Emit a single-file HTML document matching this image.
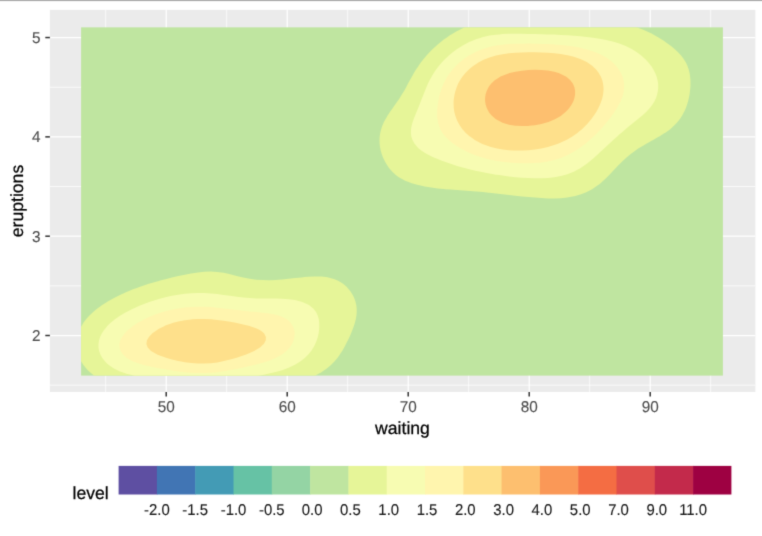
<!DOCTYPE html>
<html lang="en">
<head>
<meta charset="utf-8">
<title>2D density of Old Faithful: eruptions vs waiting</title>
<style>
html,body{margin:0;padding:0;background:#fff}
body{width:762px;height:536px;overflow:hidden}
svg{display:block}
text{font-family:"Liberation Sans",Arial,Helvetica,sans-serif;text-rendering:geometricPrecision}
</style>
</head>
<body>
<svg width="762" height="536" viewBox="0 0 762 536">
<defs><filter id="soft" x="-10" y="-10" width="782" height="556" filterUnits="userSpaceOnUse" color-interpolation-filters="sRGB"><feConvolveMatrix order="3" kernelMatrix="1 6 1 6 36 6 1 6 1" edgeMode="duplicate" preserveAlpha="true"/></filter></defs>
<g filter="url(#soft)">
<!-- page background -->
<rect x="-10" y="-10" width="782" height="556" fill="#fff"/>
<rect x="-10" y="-10" width="782" height="11.10" fill="#a9a9a9"/>
<!-- panel -->
<rect x="49.90" y="9.90" width="705.50" height="382.10" fill="#ebebeb"/>
<g stroke="#fff" fill="none">
<g stroke-width="0.75">
<path d="M105.70 9.90V392.00"/>
<path d="M226.70 9.90V392.00"/>
<path d="M347.70 9.90V392.00"/>
<path d="M468.70 9.90V392.00"/>
<path d="M589.70 9.90V392.00"/>
<path d="M710.70 9.90V392.00"/>
<path d="M49.90 385.17H755.40"/>
<path d="M49.90 285.85H755.40"/>
<path d="M49.90 186.53H755.40"/>
<path d="M49.90 87.21H755.40"/>
</g><g stroke-width="1.25">
<path d="M166.20 9.90V392.00"/>
<path d="M287.20 9.90V392.00"/>
<path d="M408.20 9.90V392.00"/>
<path d="M529.20 9.90V392.00"/>
<path d="M650.20 9.90V392.00"/>
<path d="M49.90 335.51H755.40"/>
<path d="M49.90 236.19H755.40"/>
<path d="M49.90 136.87H755.40"/>
<path d="M49.90 37.55H755.40"/>
</g></g>
<!-- filled density bands -->
<rect x="81.10" y="27.35" width="641.80" height="348.25" fill="#BFE5A0"/>
<path d="M94.0 375.6 94.1 375.6 100.5 375.6 107.0 375.6 113.5 375.6 120.0 375.6 126.5 375.6 133.0 375.6 139.4 375.6 145.9 375.6 152.4 375.6 158.9 375.6 165.4 375.6 171.9 375.6 178.3 375.6 184.8 375.6 191.3 375.6 197.8 375.6 204.3 375.6 210.8 375.6 217.2 375.6 223.7 375.6 230.2 375.6 236.7 375.6 243.2 375.6 249.7 375.6 256.1 375.6 262.6 375.6 269.1 375.6 275.6 375.6 282.1 375.6 288.6 375.6 295.0 375.6 301.5 375.6 308.0 375.6 314.5 375.6 315.3 375.6 321.0 372.5 321.7 372.1 326.8 368.6 327.4 368.1 331.0 365.0 333.9 362.1 334.4 361.5 337.4 358.0 339.9 354.5 340.4 353.6 342.2 351.0 344.2 347.5 346.0 343.9 346.9 342.1 347.8 340.4 349.5 336.9 351.0 333.4 352.4 329.9 353.4 327.2 353.7 326.4 354.9 322.8 355.8 319.3 356.4 315.8 356.7 312.3 356.7 308.8 356.3 305.2 355.5 301.7 354.3 298.2 353.4 296.2 352.6 294.7 350.4 291.2 347.4 287.7 346.9 287.1 343.4 284.1 340.4 282.1 337.6 280.6 333.9 279.0 327.4 277.3 325.9 277.1 321.0 276.5 314.5 276.4 308.0 276.8 304.7 277.1 301.5 277.4 295.0 278.0 288.6 278.7 282.1 279.4 275.6 279.9 269.1 280.2 262.6 280.1 256.1 279.7 249.7 278.8 243.2 277.6 241.0 277.1 236.7 275.9 230.2 274.3 227.0 273.6 223.7 272.8 217.2 271.9 210.8 271.6 204.3 271.8 197.8 272.5 191.3 273.5 191.0 273.6 184.8 274.7 178.3 276.1 174.1 277.1 171.9 277.6 165.4 279.2 160.1 280.6 158.9 280.9 152.4 282.7 148.0 284.1 145.9 284.8 139.4 287.0 137.5 287.7 133.0 289.3 128.4 291.2 126.5 292.0 120.5 294.7 120.0 294.9 113.5 298.2 113.5 298.2 107.3 301.7 107.0 301.9 101.8 305.2 100.5 306.2 97.0 308.8 94.1 311.2 92.9 312.3 89.2 315.8 87.6 317.6 86.1 319.3 83.4 322.8 81.3 326.4 81.1 326.7 81.1 329.9 81.1 333.4 81.1 336.9 81.1 340.4 81.1 343.9 81.1 347.5 81.1 351.0 81.1 354.5 81.1 358.0 81.1 361.2 81.2 361.5 83.4 365.0 86.3 368.6 87.6 369.9 89.7 372.1ZM519.8 196.2 521.9 196.4 528.4 197.1 534.9 197.6 541.4 198.1 547.9 198.4 554.3 198.5 560.8 198.2 567.3 197.6 573.8 196.3 574.3 196.2 580.3 194.5 585.0 192.7 586.8 192.0 592.1 189.2 593.2 188.5 597.4 185.6 599.7 183.9 601.9 182.1 605.7 178.6 606.2 178.1 609.2 175.1 612.5 171.6 612.7 171.3 615.8 168.1 619.1 164.5 619.2 164.4 622.7 161.0 625.7 158.2 626.5 157.5 630.7 154.0 632.1 152.9 635.5 150.5 638.6 148.3 640.9 147.0 645.1 144.4 646.8 143.4 651.6 140.7 653.1 139.9 658.1 137.1 659.3 136.4 664.6 133.1 665.0 132.9 669.9 129.4 671.0 128.4 673.9 125.8 677.3 122.3 677.5 122.1 680.1 118.8 682.3 115.3 684.0 112.1 684.2 111.8 685.8 108.3 687.0 104.7 688.1 101.2 688.9 97.7 689.6 94.2 690.0 90.7 690.4 87.2 690.5 83.8 690.5 83.6 690.5 83.4 690.4 80.1 690.1 76.6 689.6 73.1 688.7 69.6 687.5 66.0 685.9 62.5 684.0 59.6 683.7 59.0 681.1 55.5 677.8 52.0 677.5 51.8 674.0 48.5 671.0 46.1 669.6 44.9 664.7 41.4 664.6 41.3 659.3 37.9 658.1 37.2 653.2 34.4 651.6 33.6 646.0 30.9 645.1 30.5 638.6 27.9 636.9 27.4 632.1 27.4 625.7 27.4 619.2 27.4 612.7 27.4 606.2 27.4 599.7 27.4 593.2 27.4 586.8 27.4 580.3 27.4 573.8 27.4 567.3 27.4 560.8 27.4 554.3 27.4 547.9 27.4 541.4 27.4 534.9 27.4 528.4 27.4 521.9 27.4 515.4 27.4 509.0 27.4 502.5 27.4 496.0 27.4 489.5 27.4 483.0 27.4 476.6 27.4 470.1 27.4 464.4 27.4 463.6 27.7 457.3 30.9 457.1 31.0 451.3 34.4 450.6 34.8 446.1 37.9 444.1 39.3 441.4 41.4 437.7 44.6 437.2 44.9 433.3 48.5 431.2 50.6 429.8 52.0 426.5 55.5 424.7 57.7 423.6 59.0 420.8 62.5 418.4 66.0 418.2 66.4 416.0 69.6 413.9 73.1 412.0 76.6 411.7 77.1 410.0 80.1 408.0 83.6 406.2 87.2 405.2 88.9 404.2 90.7 402.0 94.2 399.9 97.7 398.8 99.5 397.5 101.2 395.0 104.7 392.6 108.3 392.3 108.8 390.1 111.8 387.8 115.3 385.8 118.7 385.7 118.8 383.8 122.3 382.3 125.8 381.1 129.4 380.2 132.9 379.7 136.4 379.5 139.9 379.6 143.4 380.0 147.0 380.7 150.5 381.7 154.0 383.0 157.5 384.7 161.0 385.8 163.0 386.7 164.5 389.0 168.1 392.1 171.6 392.3 171.8 395.8 175.1 398.8 177.2 401.1 178.6 405.2 180.8 408.6 182.1 411.7 183.3 418.2 185.1 420.6 185.6 424.7 186.5 431.2 187.6 437.7 188.5 444.1 189.1 444.9 189.2 450.6 189.6 457.1 190.1 463.6 190.5 470.1 191.0 476.6 191.5 483.0 192.1 488.7 192.7 489.5 192.8 496.0 193.5 502.5 194.3 509.0 195.1 515.4 195.8Z" fill="#E6F598"/>
<path d="M121.7 372.1 126.5 373.7 133.0 375.3 134.5 375.6 139.4 375.6 145.9 375.6 152.4 375.6 158.9 375.6 165.4 375.6 171.9 375.6 178.3 375.6 184.8 375.6 191.3 375.6 197.8 375.6 204.3 375.6 210.8 375.6 217.2 375.6 223.7 375.6 230.2 375.6 236.7 375.6 243.2 375.6 249.7 375.6 256.1 375.6 258.4 375.6 262.6 374.9 269.1 373.6 275.5 372.1 275.6 372.1 282.1 370.2 286.6 368.6 288.6 367.8 294.4 365.0 295.0 364.7 300.2 361.5 301.5 360.6 304.8 358.0 308.0 354.8 308.3 354.5 311.2 351.0 313.4 347.5 314.5 345.4 315.2 343.9 316.7 340.4 317.8 336.9 318.6 333.4 319.1 329.9 319.3 326.4 319.2 322.8 318.8 319.3 317.8 315.8 316.2 312.3 314.5 309.9 313.5 308.8 309.3 305.2 308.0 304.5 301.7 301.7 301.5 301.7 295.0 300.1 288.6 299.2 282.1 298.8 275.6 298.6 269.1 298.5 262.6 298.5 256.1 298.4 253.2 298.2 249.7 298.0 243.2 297.5 236.7 296.7 230.2 295.8 223.7 294.9 221.9 294.7 217.2 294.0 210.8 293.4 204.3 293.0 197.8 292.9 191.3 293.2 184.8 293.8 178.3 294.7 178.3 294.7 171.9 295.8 165.4 297.2 161.7 298.2 158.9 298.9 152.4 300.9 150.0 301.7 145.9 303.2 140.7 305.2 139.4 305.8 133.0 308.7 132.8 308.8 126.5 312.0 125.9 312.3 120.0 315.8 120.0 315.8 114.9 319.3 113.5 320.4 110.6 322.8 107.0 326.3 107.0 326.4 104.1 329.9 101.8 333.4 100.5 336.0 100.1 336.9 99.0 340.4 98.5 343.9 98.5 347.5 99.1 351.0 100.4 354.5 100.5 354.8 102.3 358.0 105.1 361.5 107.0 363.5 108.8 365.0 113.5 368.3 114.0 368.6 120.0 371.4ZM499.0 175.1 502.5 175.6 509.0 176.5 515.4 177.2 521.9 177.7 528.4 178.1 534.9 178.2 541.4 178.2 547.9 177.9 554.3 177.3 560.8 176.1 564.6 175.1 567.3 174.3 573.8 171.7 574.1 171.6 580.3 168.2 580.6 168.1 585.7 164.5 586.8 163.8 590.2 161.0 593.2 158.5 594.3 157.5 598.2 154.0 599.7 152.6 602.0 150.5 605.7 147.0 606.2 146.5 609.5 143.4 612.7 140.4 613.2 139.9 617.2 136.4 619.2 134.5 621.2 132.9 625.2 129.4 625.7 129.0 629.6 125.8 632.1 123.7 634.0 122.3 638.3 118.8 638.6 118.5 642.6 115.3 645.1 112.9 646.4 111.8 649.6 108.3 651.6 105.8 652.3 104.7 654.5 101.2 656.1 97.7 657.2 94.2 657.9 90.7 658.1 88.8 658.2 87.2 658.1 83.8 658.1 83.6 657.5 80.1 656.6 76.6 655.2 73.1 653.4 69.6 651.6 66.6 651.2 66.0 648.4 62.5 645.2 59.0 645.1 58.9 641.2 55.5 638.6 53.5 636.5 52.0 632.1 49.3 630.7 48.5 625.7 46.0 623.2 44.9 619.2 43.5 612.7 41.5 612.5 41.4 606.2 39.9 599.7 38.7 594.4 37.9 593.2 37.7 586.8 36.9 580.3 36.3 573.8 35.7 567.3 35.3 560.8 34.9 554.3 34.6 547.9 34.4 546.5 34.4 541.4 34.2 534.9 34.1 528.4 33.9 521.9 33.8 515.4 33.8 509.0 33.8 502.5 34.1 499.5 34.4 496.0 34.7 489.5 35.6 483.0 37.0 480.2 37.9 476.6 39.0 470.6 41.4 470.1 41.6 463.6 44.9 463.6 45.0 458.0 48.5 457.1 49.0 453.1 52.0 450.6 54.0 448.9 55.5 445.1 59.0 444.1 60.0 441.8 62.5 438.8 66.0 437.7 67.6 436.1 69.6 433.8 73.1 431.7 76.6 431.2 77.6 429.7 80.1 428.0 83.6 426.4 87.2 425.0 90.7 424.7 91.5 423.6 94.2 422.2 97.7 420.8 101.2 419.5 104.7 418.2 108.0 418.1 108.3 416.6 111.8 415.2 115.3 413.8 118.8 412.6 122.3 411.7 125.6 411.6 125.8 411.0 129.4 410.9 132.9 411.3 136.4 411.7 137.7 412.5 139.9 414.4 143.4 417.3 147.0 418.2 147.9 421.3 150.5 424.7 152.7 426.8 154.0 431.2 156.2 433.9 157.5 437.7 159.1 442.6 161.0 444.1 161.6 450.6 163.8 452.8 164.5 457.1 165.9 463.6 167.7 464.8 168.1 470.1 169.4 476.6 170.9 479.5 171.6 483.0 172.3 489.5 173.6 496.0 174.7Z" fill="#F7FCB2"/>
<path d="M184.0 372.1 184.8 372.2 191.3 372.8 197.8 373.1 204.3 373.1 210.8 372.8 217.2 372.2 217.9 372.1 223.7 371.3 230.2 370.1 236.7 368.9 238.2 368.6 243.2 367.5 249.7 366.1 254.0 365.0 256.1 364.5 262.6 362.8 266.7 361.5 269.1 360.7 275.6 358.1 275.7 358.0 281.9 354.5 282.1 354.4 286.4 351.0 288.6 348.7 289.7 347.5 292.0 343.9 293.5 340.4 294.4 336.9 294.7 333.4 294.3 329.9 293.0 326.4 290.7 322.8 288.6 320.6 286.8 319.3 282.1 316.8 279.4 315.8 275.6 314.7 269.1 313.5 262.6 312.7 258.8 312.3 256.1 312.0 249.7 311.4 243.2 310.8 236.7 310.0 230.2 309.2 226.3 308.8 223.7 308.4 217.2 307.7 210.8 307.1 204.3 306.8 197.8 306.7 191.3 307.0 184.8 307.5 178.3 308.4 176.5 308.8 171.9 309.7 165.4 311.3 162.0 312.3 158.9 313.3 152.4 315.6 152.0 315.8 145.9 318.5 144.3 319.3 139.4 321.9 137.8 322.8 133.0 326.0 132.4 326.4 128.0 329.9 126.5 331.4 124.6 333.4 122.0 336.9 120.2 340.4 120.0 341.4 119.4 343.9 119.5 347.5 120.0 349.0 120.6 351.0 123.0 354.5 126.5 357.8 126.8 358.0 133.0 361.5 133.1 361.5 139.4 363.8 143.8 365.0 145.9 365.6 152.4 367.0 158.9 368.2 160.9 368.6 165.4 369.3 171.9 370.4 178.3 371.4ZM497.4 161.0 502.5 161.8 509.0 162.6 515.4 163.1 521.9 163.3 528.4 163.3 534.9 163.0 541.4 162.4 547.9 161.4 549.4 161.0 554.3 159.9 560.8 157.9 561.8 157.5 567.3 155.2 569.6 154.0 573.8 151.8 575.8 150.5 580.3 147.5 581.0 147.0 585.6 143.4 586.8 142.5 589.8 139.9 593.2 136.7 593.6 136.4 597.2 132.9 599.7 130.2 600.6 129.4 603.8 125.8 606.2 122.8 606.7 122.3 609.6 118.8 612.1 115.3 612.7 114.4 614.6 111.8 616.9 108.3 618.8 104.7 619.2 103.9 620.6 101.2 622.1 97.7 623.2 94.2 623.8 90.7 624.1 87.2 624.0 83.6 623.5 80.1 622.5 76.6 620.9 73.1 619.2 70.2 618.8 69.6 616.2 66.0 612.7 62.5 612.7 62.5 608.4 59.0 606.2 57.6 602.6 55.5 599.7 54.1 594.7 52.0 593.2 51.5 586.8 49.4 582.9 48.5 580.3 47.8 573.8 46.6 567.3 45.7 560.8 45.0 560.1 44.9 554.3 44.5 547.9 44.1 541.4 43.9 534.9 43.7 528.4 43.6 521.9 43.7 515.4 43.8 509.0 44.1 502.5 44.7 500.7 44.9 496.0 45.6 489.5 46.9 484.4 48.5 483.0 48.9 476.6 51.5 475.5 52.0 470.1 54.9 469.0 55.5 463.8 59.0 463.6 59.2 459.5 62.5 457.1 64.8 455.8 66.0 452.6 69.6 450.6 72.1 449.8 73.1 447.4 76.6 445.4 80.1 444.1 82.7 443.7 83.6 442.1 87.2 440.9 90.7 439.8 94.2 439.0 97.7 438.3 101.2 437.8 104.7 437.7 105.9 437.4 108.3 437.2 111.8 437.2 115.3 437.4 118.8 437.7 120.1 438.0 122.3 439.0 125.8 440.4 129.4 442.5 132.9 444.1 135.0 445.2 136.4 448.7 139.9 450.6 141.5 453.0 143.4 457.1 146.3 458.2 147.0 463.6 150.1 464.4 150.5 470.1 153.2 472.1 154.0 476.6 155.7 482.1 157.5 483.0 157.8 489.5 159.5 496.0 160.8Z" fill="#FFF5AE"/>
<path d="M181.2 361.5 184.8 362.2 191.3 363.0 197.8 363.5 204.3 363.6 210.8 363.2 217.2 362.4 221.8 361.5 223.7 361.1 230.2 359.5 235.8 358.0 236.7 357.7 243.2 355.5 246.1 354.5 249.7 353.0 254.2 351.0 256.1 349.8 260.0 347.5 262.6 345.1 263.8 343.9 265.7 340.4 265.9 336.9 264.2 333.4 262.6 331.9 259.8 329.9 256.1 328.2 250.9 326.4 249.7 326.0 243.2 324.4 236.7 323.0 235.8 322.8 230.2 321.8 223.7 320.8 217.2 319.9 211.1 319.3 210.8 319.3 204.3 319.0 197.8 319.0 192.5 319.3 191.3 319.4 184.8 320.2 178.3 321.5 173.2 322.8 171.9 323.2 165.4 325.6 163.7 326.4 158.9 328.8 157.1 329.9 152.4 333.2 152.2 333.4 148.9 336.9 146.9 340.4 146.4 343.9 147.7 347.5 151.0 351.0 152.4 351.8 157.2 354.5 158.9 355.2 165.4 357.5 166.8 358.0 171.9 359.4 178.3 360.9ZM513.8 150.5 515.4 150.6 521.9 150.5 523.0 150.5 528.4 150.2 534.9 149.5 541.4 148.4 547.9 147.0 547.9 147.0 554.3 145.1 558.6 143.4 560.8 142.6 566.3 139.9 567.3 139.4 572.4 136.4 573.8 135.5 577.4 132.9 580.3 130.6 581.7 129.4 585.4 125.8 586.8 124.4 588.7 122.3 591.6 118.8 593.2 116.5 594.1 115.3 596.4 111.8 598.3 108.3 599.7 105.2 599.9 104.7 601.3 101.2 602.4 97.7 603.1 94.2 603.5 90.7 603.5 87.2 603.0 83.6 602.2 80.1 600.8 76.6 599.7 74.7 598.8 73.1 596.1 69.6 593.2 66.8 592.5 66.0 587.5 62.5 586.8 62.1 580.3 59.0 580.3 59.0 573.8 56.8 568.7 55.5 567.3 55.2 560.8 54.0 554.3 53.2 547.9 52.7 541.4 52.4 534.9 52.3 528.4 52.3 521.9 52.4 515.4 52.7 509.0 53.3 502.5 54.2 496.1 55.5 496.0 55.5 489.5 57.4 485.5 59.0 483.0 60.1 478.4 62.5 476.6 63.7 473.1 66.0 470.1 68.5 468.9 69.6 465.4 73.1 463.6 75.3 462.5 76.6 460.2 80.1 458.2 83.6 457.1 86.2 456.7 87.2 455.5 90.7 454.6 94.2 454.0 97.7 453.6 101.2 453.6 104.7 453.8 108.3 454.3 111.8 455.2 115.3 456.4 118.8 457.1 120.4 458.0 122.3 460.0 125.8 462.6 129.4 463.6 130.5 465.8 132.9 469.8 136.4 470.1 136.6 474.8 139.9 476.6 141.0 481.4 143.4 483.0 144.2 489.5 146.6 490.9 147.0 496.0 148.3 502.5 149.5 509.0 150.2Z" fill="#FEE08B"/>
<path d="M516.7 125.8 521.9 126.1 528.4 125.9 529.1 125.8 534.9 125.2 541.4 124.0 547.5 122.3 547.9 122.2 554.3 119.6 555.8 118.8 560.8 115.9 561.6 115.3 565.8 111.8 567.3 110.3 569.1 108.3 571.5 104.7 573.4 101.2 573.8 100.0 574.5 97.7 575.1 94.2 575.1 90.7 574.4 87.2 573.8 85.7 572.8 83.6 570.1 80.1 567.3 77.5 565.9 76.6 560.8 73.9 558.6 73.1 554.3 71.8 547.9 70.6 541.4 70.0 534.9 69.8 528.4 70.1 521.9 70.7 515.4 71.7 509.6 73.1 509.0 73.2 502.5 75.7 500.6 76.6 496.0 79.4 495.0 80.1 491.3 83.6 489.5 85.8 488.5 87.2 486.8 90.7 485.6 94.2 485.1 97.7 485.1 101.2 485.7 104.7 486.9 108.3 488.7 111.8 489.5 113.0 491.4 115.3 495.3 118.8 496.0 119.3 501.6 122.3 502.5 122.7 509.0 124.7 515.4 125.8Z" fill="#FDBF6F"/>
<!-- axis ticks -->
<g stroke="#333" stroke-width="1.50" fill="none">
<path d="M166.20 392.00v4.60"/>
<path d="M287.20 392.00v4.60"/>
<path d="M408.20 392.00v4.60"/>
<path d="M529.20 392.00v4.60"/>
<path d="M650.20 392.00v4.60"/>
<path d="M49.90 335.51h-4.60"/>
<path d="M49.90 236.19h-4.60"/>
<path d="M49.90 136.87h-4.60"/>
<path d="M49.90 37.55h-4.60"/>
</g>
<!-- axis tick labels -->
<g fill="#4d4d4d" stroke="#4d4d4d" stroke-width="0.12" font-size="15.30">
<text transform="translate(166.20 412.20) scale(1 1.020)" text-anchor="middle">50</text>
<text transform="translate(287.20 412.20) scale(1 1.020)" text-anchor="middle">60</text>
<text transform="translate(408.20 412.20) scale(1 1.020)" text-anchor="middle">70</text>
<text transform="translate(529.20 412.20) scale(1 1.020)" text-anchor="middle">80</text>
<text transform="translate(650.20 412.20) scale(1 1.020)" text-anchor="middle">90</text>
<text transform="translate(40.40 42.95) scale(1 1.020)" text-anchor="end">5</text>
<text transform="translate(40.40 142.27) scale(1 1.020)" text-anchor="end">4</text>
<text transform="translate(40.40 241.59) scale(1 1.020)" text-anchor="end">3</text>
<text transform="translate(40.40 340.91) scale(1 1.020)" text-anchor="end">2</text>
</g>
<!-- axis titles -->
<g fill="#000" stroke="#000" stroke-width="0.25" font-size="17.60">
<text x="402.50" y="434.30" text-anchor="middle">waiting</text>
<text transform="translate(23.00 201.00) rotate(-90)" text-anchor="middle">eruptions</text>
<!-- legend -->
<text x="72.50" y="499.40">level</text>
</g>
<rect x="118.60" y="465.90" width="38.80" height="28.60" fill="#5E4FA2"/>
<rect x="156.90" y="465.90" width="38.80" height="28.60" fill="#4175B4"/>
<rect x="195.20" y="465.90" width="38.80" height="28.60" fill="#439BB5"/>
<rect x="233.50" y="465.90" width="38.80" height="28.60" fill="#66C2A5"/>
<rect x="271.80" y="465.90" width="38.80" height="28.60" fill="#94D4A4"/>
<rect x="310.10" y="465.90" width="38.80" height="28.60" fill="#BFE5A0"/>
<rect x="348.40" y="465.90" width="38.80" height="28.60" fill="#E6F598"/>
<rect x="386.70" y="465.90" width="38.80" height="28.60" fill="#F7FCB2"/>
<rect x="425.00" y="465.90" width="38.80" height="28.60" fill="#FFF5AE"/>
<rect x="463.30" y="465.90" width="38.80" height="28.60" fill="#FEE08B"/>
<rect x="501.60" y="465.90" width="38.80" height="28.60" fill="#FDBF6F"/>
<rect x="539.90" y="465.90" width="38.80" height="28.60" fill="#FA9857"/>
<rect x="578.20" y="465.90" width="38.80" height="28.60" fill="#F46D43"/>
<rect x="616.50" y="465.90" width="38.80" height="28.60" fill="#DF4E4B"/>
<rect x="654.80" y="465.90" width="38.80" height="28.60" fill="#C32A4B"/>
<rect x="693.10" y="465.90" width="38.30" height="28.60" fill="#9E0142"/>
<g fill="#1a1a1a" stroke="#1a1a1a" stroke-width="0.12" font-size="14.90">
<text transform="translate(156.90 514.60) scale(1 1.050)" text-anchor="middle">-2.0</text>
<text transform="translate(195.20 514.60) scale(1 1.050)" text-anchor="middle">-1.5</text>
<text transform="translate(233.50 514.60) scale(1 1.050)" text-anchor="middle">-1.0</text>
<text transform="translate(271.80 514.60) scale(1 1.050)" text-anchor="middle">-0.5</text>
<text transform="translate(312.10 514.60) scale(1 1.050)" text-anchor="middle">0.0</text>
<text transform="translate(350.40 514.60) scale(1 1.050)" text-anchor="middle">0.5</text>
<text transform="translate(388.70 514.60) scale(1 1.050)" text-anchor="middle">1.0</text>
<text transform="translate(427.00 514.60) scale(1 1.050)" text-anchor="middle">1.5</text>
<text transform="translate(465.30 514.60) scale(1 1.050)" text-anchor="middle">2.0</text>
<text transform="translate(503.60 514.60) scale(1 1.050)" text-anchor="middle">3.0</text>
<text transform="translate(541.90 514.60) scale(1 1.050)" text-anchor="middle">4.0</text>
<text transform="translate(580.20 514.60) scale(1 1.050)" text-anchor="middle">5.0</text>
<text transform="translate(618.50 514.60) scale(1 1.050)" text-anchor="middle">7.0</text>
<text transform="translate(656.80 514.60) scale(1 1.050)" text-anchor="middle">9.0</text>
<text transform="translate(693.10 514.60) scale(1 1.050)" text-anchor="middle">11.0</text>
</g>
</g>
</svg>
</body>
</html>
